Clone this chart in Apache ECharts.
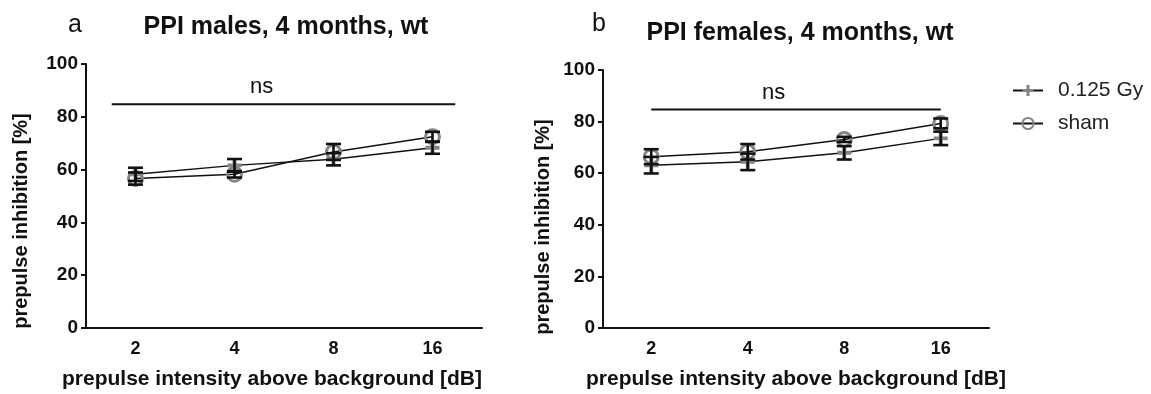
<!DOCTYPE html>
<html>
<head>
<meta charset="utf-8">
<script src="https://cdn.jsdelivr.net/npm/echarts@6/dist/echarts.min.js"></script>
<style>
  html, body { margin: 0; padding: 0; background: #fff; }
  #chart { width: 1151px; height: 394px; }
</style>
</head>
<body>
<div id="chart"></div>
<script>
// data
const categories = ['2', '4', '8', '16']
const yTicks = [0, 20, 40, 60, 80, 100]

const malesGy = [58.2, 61.6, 63.9, 68.3]
const malesGyErr = [2.5, 2.4, 2.3, 2.3]
const malesSham = [56.6, 58.2, 66.7, 72.4]
const malesShamErr = [2.3, 1.2, 3.0, 1.9]

const femalesGy = [63.1, 64.4, 67.9, 73.5]
const femalesGyErr = [3.2, 3.2, 2.6, 2.6]
const femalesSham = [66.4, 68.3, 73.1, 79.3]
const femalesShamErr = [2.9, 3.0, 1.0, 1.9]

// "ns" bars (x in category index units, y in %)
const nsMales = [[-0.24, 84.8], [3.23, 84.8]]
const nsFemales = [[0, 84.7], [3, 84.7]]

const font = 'Liberation Sans, Arial, sans-serif'
const grey = '#858585'
const plusPath = 'path://M-1.4,-5 h2.8 v3.6 h3.6 v2.8 h-3.6 v3.6 h-2.8 v-3.6 h-3.6 v-2.8 h3.6z'

const errData = (means, errs) => means.map((m, i) => [i, m - errs[i], m + errs[i]])

const errorBars = (idx, means, errs) => ({
    type: 'custom',
    xAxisIndex: idx * 2,
    yAxisIndex: idx,
    z: 5,
    silent: true,
    data: errData(means, errs),
    renderItem: (params, api) => {
        const lo = api.coord([api.value(0), api.value(1)])
        const hi = api.coord([api.value(0), api.value(2)])
        const w = 7.5
        const style = { stroke: '#111', lineWidth: 2.6 }
        return {
            type: 'group',
            children: [
                { type: 'line', shape: { x1: lo[0], y1: lo[1], x2: hi[0], y2: hi[1] }, style },
                { type: 'line', shape: { x1: lo[0] - w, y1: lo[1], x2: lo[0] + w, y2: lo[1] }, style },
                { type: 'line', shape: { x1: hi[0] - w, y1: hi[1], x2: hi[0] + w, y2: hi[1] }, style }
            ]
        }
    }
})

const gySeries = (idx, data) => ({
    name: '0.125 Gy',
    type: 'line',
    xAxisIndex: idx * 2,
    yAxisIndex: idx,
    data,
    symbol: plusPath,
    symbolSize: 14,
    z: 3,
    itemStyle: { color: grey },
    lineStyle: { color: '#111', width: 1.5 }
})

const shamSeries = (idx, data) => ({
    name: 'sham',
    type: 'line',
    xAxisIndex: idx * 2,
    yAxisIndex: idx,
    data,
    symbol: 'circle',
    symbolSize: 14,
    z: 4,
    itemStyle: { color: 'rgba(0,0,0,0)', borderColor: grey, borderWidth: 3 },
    lineStyle: { color: '#111', width: 1.5 }
})

const nsSeries = (idx, data) => ({
    type: 'line',
    xAxisIndex: idx * 2 + 1,
    yAxisIndex: idx,
    data,
    symbol: 'none',
    silent: true,
    lineStyle: { color: '#111', width: 2 }
})

const catAxis = (idx, pad) => ({
    type: 'category',
    gridIndex: idx,
    data: categories,
    boundaryGap: true,
    name: 'prepulse intensity above background [dB]',
    nameLocation: 'middle',
    nameGap: 41,
    nameTextStyle: { color: '#111', fontFamily: font, fontWeight: 'bold', fontSize: 21, padding: pad },
    axisLine: { onZero: false, lineStyle: { color: '#111', width: 2 } },
    axisTick: { alignWithLabel: true, length: 5, lineStyle: { color: '#111', width: 2 } },
    axisLabel: { color: '#111', fontFamily: font, fontWeight: 'bold', fontSize: 18, margin: 12 }
})

const hiddenAxis = (idx) => ({
    type: 'value',
    gridIndex: idx,
    min: -0.5,
    max: 3.5,
    show: false
})

const valAxis = (idx, gap, pad) => ({
    type: 'value',
    gridIndex: idx,
    min: yTicks[0],
    max: yTicks[yTicks.length - 1],
    interval: 20,
    name: 'prepulse inhibition [%]',
    nameLocation: 'middle',
    nameGap: gap,
    nameTextStyle: { color: '#111', fontFamily: font, fontWeight: 'bold', fontSize: 20, padding: pad },
    axisLine: { show: true, onZero: false, lineStyle: { color: '#111', width: 2 } },
    axisTick: { show: true, length: 5, lineStyle: { color: '#111', width: 2 } },
    splitLine: { show: false },
    axisLabel: { color: '#111', fontFamily: font, fontWeight: 'bold', fontSize: 19, margin: 8 }
})

const chart = echarts.init(document.getElementById('chart'))
chart.setOption({
    backgroundColor: '#fff',
    animation: false,
    title: [
        { text: 'PPI males, 4 months, wt', left: 281, top: 10, textAlign: 'center',
          textStyle: { fontFamily: font, fontWeight: 'bold', fontSize: 25, color: '#111' } },
        { text: 'PPI females, 4 months, wt', left: 795, top: 16, textAlign: 'center',
          textStyle: { fontFamily: font, fontWeight: 'bold', fontSize: 25, color: '#111' } }
    ],
    graphic: [
        { type: 'text', left: 68, top: 13, style: { text: 'a', font: '25px ' + font, fill: '#111' } },
        { type: 'text', left: 592, top: 12, style: { text: 'b', font: '25px ' + font, fill: '#111' } },
        { type: 'text', left: 250, top: 76, style: { text: 'ns', font: '22px ' + font, fill: '#111' } },
        { type: 'text', left: 762, top: 82, style: { text: 'ns', font: '22px ' + font, fill: '#111' } }
    ],
    legend: {
        orient: 'vertical',
        left: 1007,
        top: 75,
        itemWidth: 30,
        itemHeight: 14,
        itemGap: 12,
        data: ['0.125 Gy', 'sham'],
        textStyle: { fontFamily: font, fontSize: 21, color: '#222', padding: [0, 0, 0, 10] }
    },
    grid: [
        { left: 86, right: 669, top: 64, bottom: 66, outerBoundsMode: 'none' },
        { left: 603, right: 162, top: 70, bottom: 66, outerBoundsMode: 'none' }
    ],
    xAxis: [catAxis(0, [0, 24, 0, 0]), hiddenAxis(0), catAxis(1, [0, 0, 0, 0]), hiddenAxis(1)],
    yAxis: [valAxis(0, 55, [0, 50, 0, 0]), valAxis(1, 50, [0, 56, 0, 0])],
    series: [
        nsSeries(0, nsMales),
        gySeries(0, malesGy),
        shamSeries(0, malesSham),
        errorBars(0, malesGy, malesGyErr),
        errorBars(0, malesSham, malesShamErr),
        nsSeries(1, nsFemales),
        gySeries(1, femalesGy),
        shamSeries(1, femalesSham),
        errorBars(1, femalesGy, femalesGyErr),
        errorBars(1, femalesSham, femalesShamErr)
    ]
})
</script>
</body>
</html>
